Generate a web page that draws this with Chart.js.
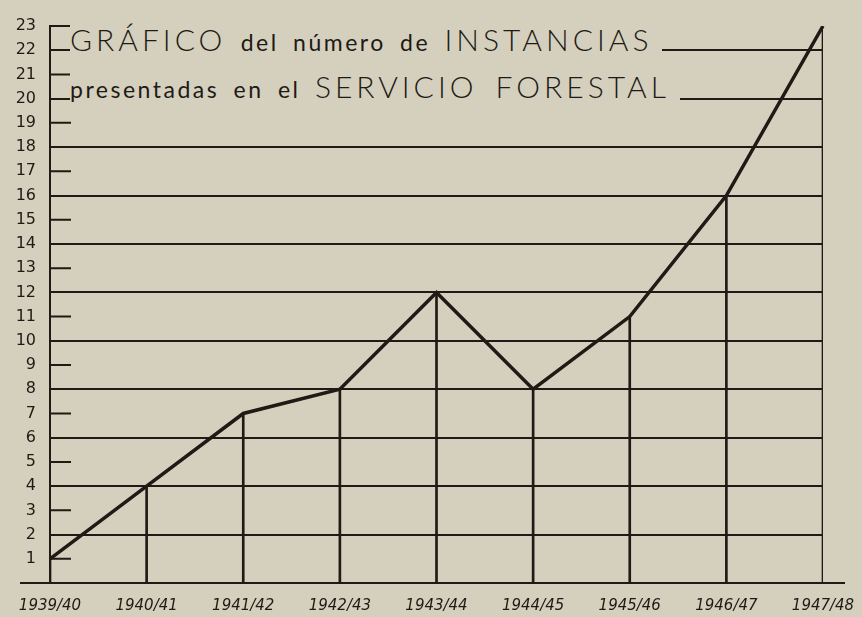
<!DOCTYPE html>
<html>
<head>
<meta charset="utf-8">
<script src="https://cdn.jsdelivr.net/npm/chart.js"></script>
<style>
  body { margin: 0; background: #d5d0bd; }
  #wrap { position: relative; width: 862px; height: 617px; }
  .t {
    position: absolute; left: 70px; white-space: pre; background: #d5d0bd;
    font-family: Lato, 'DejaVu Sans', sans-serif; font-weight: 300; color: #1e1a16;
    font-size: 30px; line-height: 36px; padding-right: 10px; word-spacing: 6px;
  }
  .c { letter-spacing: 4px; }
  .l { font-size: 23px; letter-spacing: 2.5px; font-weight: 400; }
</style>
</head>
<body>
<div id="wrap">
  <canvas id="myChart" width="862" height="617"></canvas>
  <div class="t" style="top:21px"><span class="c">GRÁFICO</span><span class="l"> del número de </span><span class="c">INSTANCIAS</span></div>
  <div class="t" style="top:68px"><span class="l">presentadas en el </span><span class="c">SERVICIO FORESTAL</span></div>
</div>
<script>
var campanas = ["1939/40", "1940/41", "1941/42", "1942/43", "1943/44", "1944/45", "1945/46", "1946/47", "1947/48"];
var instancias = [1, 4, 7, 8, 12, 8, 11, 16, 23];
var yMin = 0;
var yMax = 23;
var ink = '#1e1a16';

// short marks on the odd values, and the base line that runs past the axes
var marcas = {
    id: 'marcas',
    beforeDatasetsDraw: function(chart) {
        var c = chart.ctx, y = chart.scales.y, a = chart.chartArea;
        c.save();
        c.strokeStyle = ink;
        c.lineWidth = 2;
        c.beginPath();
        for (var v = 1; v <= yMax; v += 2) {
            var py = y.getPixelForValue(v);
            c.moveTo(a.left, py);
            c.lineTo(a.left + 21, py);
        }
        var p0 = y.getPixelForValue(0);
        c.moveTo(a.left - 30, p0);
        c.lineTo(a.right + 22, p0);
        c.stroke();
        c.restore();
    }
};

var ctx = document.getElementById('myChart').getContext('2d');
var chart = new Chart(ctx, {
    type: 'bar',
    data: {
        labels: campanas,
        datasets: [{
            type: 'line',
            data: instancias,
            borderColor: ink,
            borderWidth: 3.5,
            pointRadius: 0,
            tension: 0,
            order: 0
        },
        {
            type: 'bar',
            data: instancias,
            backgroundColor: ink,
            barThickness: 2,
            order: 1
        }]
    },
    options: {
        responsive: false,
        animation: false,
        layout: { padding: { top: 26, right: 39, left: 0, bottom: 0 } },
        plugins: { legend: { display: false }, tooltip: { enabled: false } },
        scales: {
            x: {
                offset: false,
                grid: { display: false, drawTicks: false },
                border: { display: false },
                ticks: {
                    color: ink, padding: 14, maxRotation: 0, autoSkip: false,
                    font: { family: 'DejaVu Sans', size: 15, style: 'italic' }
                },
                afterFit: function(s) {
                    s.height = 34;
                    s.paddingLeft = 0;
                    s.paddingRight = 0;
                }
            },
            y: {
                min: yMin,
                max: yMax,
                ticks: {
                    stepSize: 1, autoSkip: false, padding: 14, color: ink,
                    font: { family: 'DejaVu Sans', size: 16 },
                    callback: function(v) { return v === 0 ? '' : v; }
                },
                grid: {
                    drawTicks: false,
                    lineWidth: 2,
                    color: function(c) {
                        return (c.tick && c.tick.value % 2 === 0) ? ink : 'rgba(0,0,0,0)';
                    }
                },
                border: { display: true, color: ink, width: 2 },
                afterFit: function(s) { s.width = 50; }
            }
        }
    },
    plugins: [marcas]
});
</script>
</body>
</html>
